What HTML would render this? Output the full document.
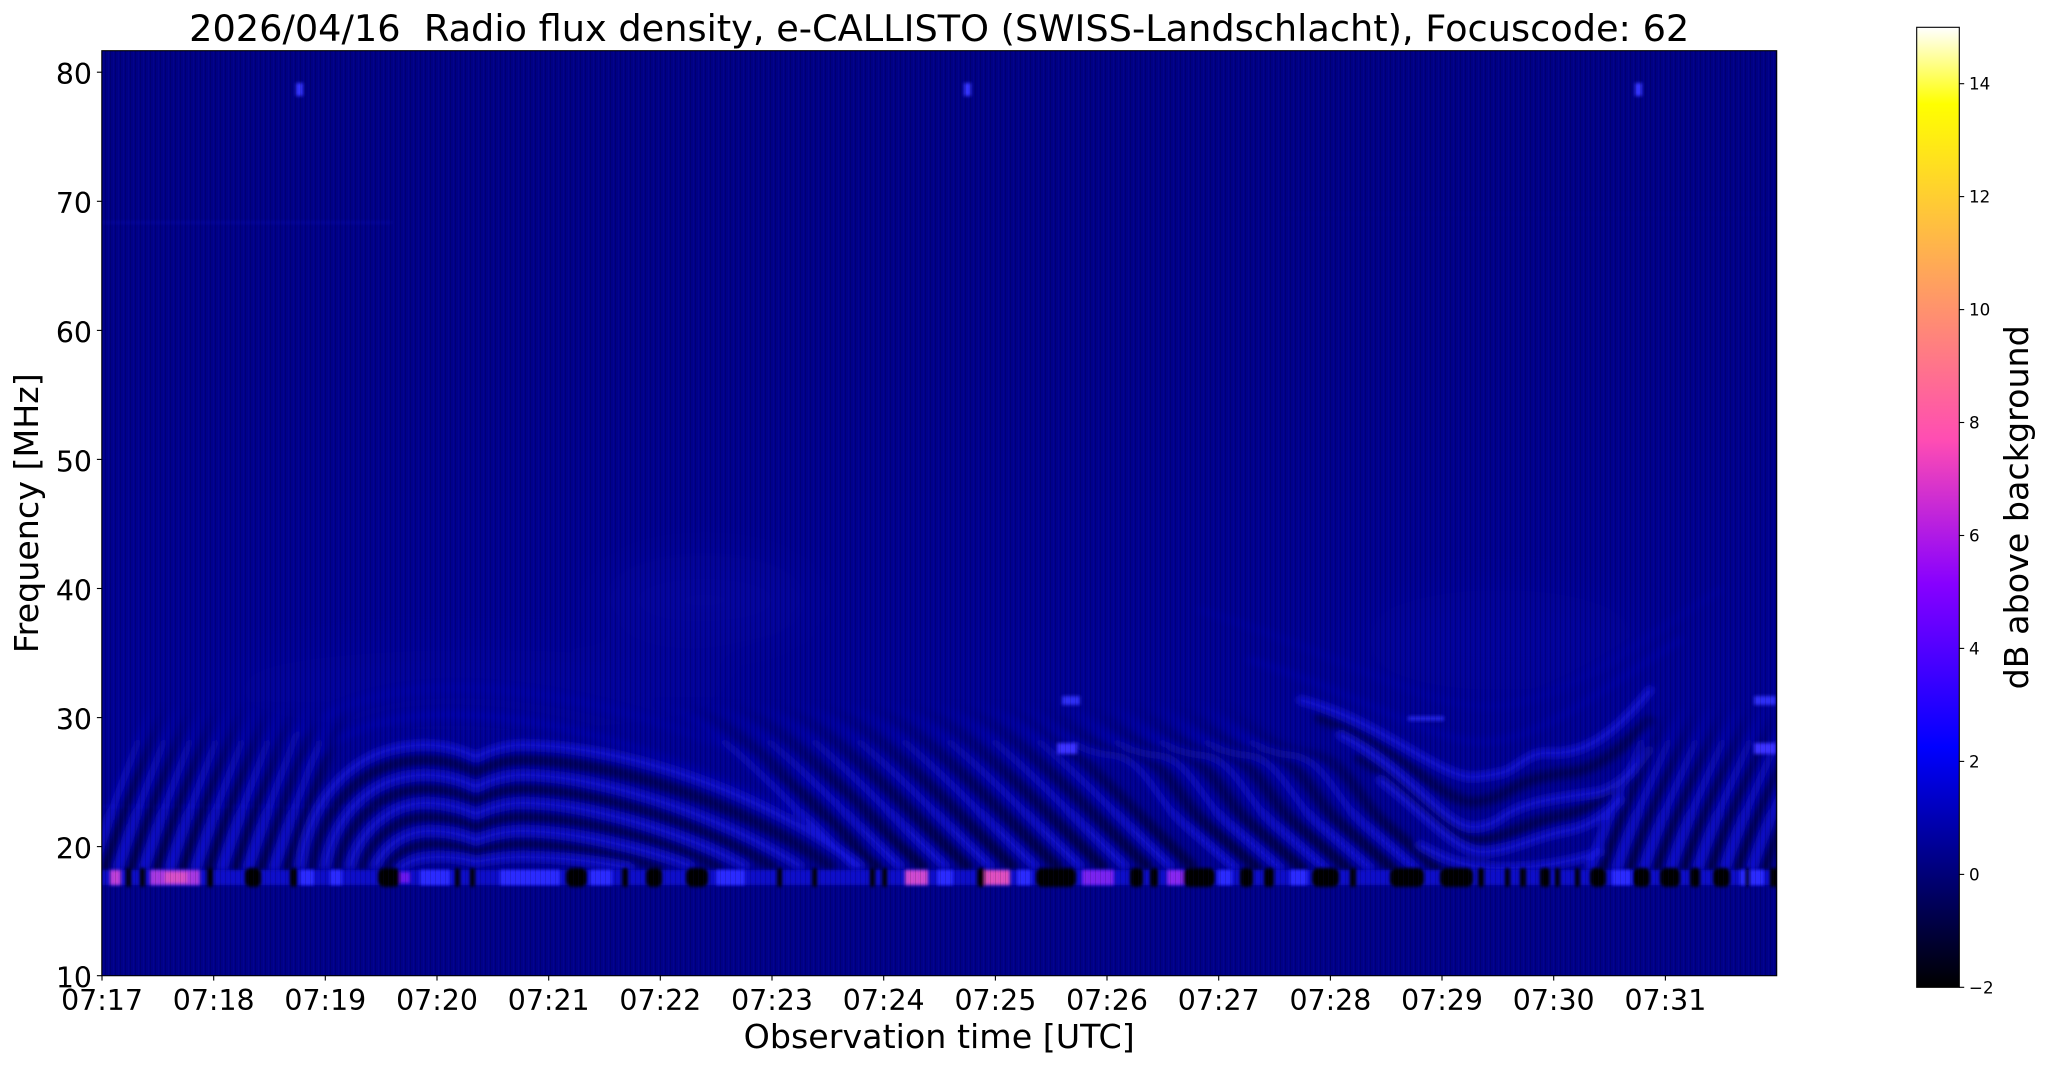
<!DOCTYPE html>
<html>
<head>
<meta charset="utf-8">
<style>
  html, body { margin: 0; padding: 0; background: #ffffff; }
  svg { display: block; }
</style>
</head>
<body>
<svg width="2047" height="1067" viewBox="0 0 2047 1067" xmlns="http://www.w3.org/2000/svg" font-family="'DejaVu Sans', 'Liberation Sans', sans-serif">
  <defs>
    <clipPath id="cp"><rect x="101.8" y="50.7" width="1674.9" height="925"/></clipPath>
    <filter id="b" x="-10%" y="-10%" width="120%" height="120%"><feGaussianBlur stdDeviation="3.4"/></filter>
    <filter id="b2" x="-20%" y="-50%" width="140%" height="200%"><feGaussianBlur stdDeviation="1.6"/></filter>
    <filter id="b3" x="-50%" y="-50%" width="200%" height="200%"><feGaussianBlur stdDeviation="25"/></filter>
    <pattern id="vs" width="5" height="50" patternUnits="userSpaceOnUse">
      <rect x="0" y="0" width="1" height="50" fill="#000000" opacity="0.14"/>
      <rect x="3" y="0" width="1" height="50" fill="#2a2aff" opacity="0.06"/>
    </pattern>
    <linearGradient id="bg" x1="0" y1="0" x2="0" y2="1">
      <stop offset="0" stop-color="#000084"/>
      <stop offset="0.35" stop-color="#000089"/>
      <stop offset="0.6" stop-color="#000090"/>
      <stop offset="0.72" stop-color="#000093"/>
      <stop offset="0.88" stop-color="#00008e"/>
      <stop offset="0.9" stop-color="#000088"/>
      <stop offset="1" stop-color="#000088"/>
    </linearGradient>
    <linearGradient id="fb" gradientUnits="userSpaceOnUse" x1="0" y1="870" x2="0" y2="700">
      <stop offset="0" stop-color="#1a1af0" stop-opacity="0.85"/>
      <stop offset="0.55" stop-color="#1414e0" stop-opacity="0.6"/>
      <stop offset="1" stop-color="#1010d0" stop-opacity="0"/>
    </linearGradient>
    <linearGradient id="fd" gradientUnits="userSpaceOnUse" x1="0" y1="870" x2="0" y2="700">
      <stop offset="0" stop-color="#000030" stop-opacity="0.75"/>
      <stop offset="0.55" stop-color="#000040" stop-opacity="0.55"/>
      <stop offset="1" stop-color="#000050" stop-opacity="0"/>
    </linearGradient>
    <linearGradient id="cb" x1="0" y1="0" x2="0" y2="1">
      <stop offset="0" stop-color="#ffffff"/>
      <stop offset="0.04" stop-color="#ffff80"/>
      <stop offset="0.08" stop-color="#ffff00"/>
      <stop offset="0.10" stop-color="#fff50a"/>
      <stop offset="0.20" stop-color="#ffc23d"/>
      <stop offset="0.30" stop-color="#ff8f70"/>
      <stop offset="0.40" stop-color="#ff5ca3"/>
      <stop offset="0.43" stop-color="#ff4db3"/>
      <stop offset="0.45" stop-color="#ef42bd"/>
      <stop offset="0.50" stop-color="#c729d6"/>
      <stop offset="0.55" stop-color="#9f0ff0"/>
      <stop offset="0.58" stop-color="#8700ff"/>
      <stop offset="0.65" stop-color="#5000ff"/>
      <stop offset="0.70" stop-color="#2800ff"/>
      <stop offset="0.75" stop-color="#0000ff"/>
      <stop offset="0.80" stop-color="#0000cc"/>
      <stop offset="0.85" stop-color="#000099"/>
      <stop offset="0.90" stop-color="#000066"/>
      <stop offset="0.95" stop-color="#000033"/>
      <stop offset="1" stop-color="#000000"/>
    </linearGradient>
  </defs>

  <rect x="0" y="0" width="2047" height="1067" fill="#ffffff"/>

  <text x="939.2" y="41" font-size="36.7" text-anchor="middle" fill="#000">2026/04/16&#160; Radio flux density, e-CALLISTO (SWISS-Landschlacht), Focuscode: 62</text>

  <g clip-path="url(#cp)">
    <rect x="101.8" y="50.7" width="1674.9" height="925" fill="url(#bg)"/>

    <g filter="url(#b3)" opacity="0.18">
      <ellipse cx="705" cy="600" rx="110" ry="45" fill="#1a1ad0"/>
      <ellipse cx="480" cy="690" rx="260" ry="40" fill="#1010c0"/>
      <ellipse cx="1500" cy="640" rx="140" ry="50" fill="#1010c0"/>
    </g>

    <g filter="url(#b2)" opacity="0.28">
      <rect x="101.8" y="221" width="290" height="3" fill="#1818c8"/>
      <rect x="1280" y="213" width="497" height="2" fill="#1010b0" opacity="0.5"/>
      <rect x="101.8" y="805" width="330" height="3" fill="#1818d8" opacity="0.8"/>
    </g>

    <g filter="url(#b)" fill="none" stroke-linecap="round">
      <path d="M260,866 C280,760 340,718 440,715 C560,712 700,760 900,866" stroke="#1515d8" stroke-width="7" opacity="0.25"/>
      <path d="M230,866 C250,740 330,690 450,688 C580,686 760,740 950,866" stroke="#1515d8" stroke-width="7" opacity="0.15"/>
      <path d="M1250,660 C1350,690 1430,740 1480,742 C1540,742 1600,690 1680,640" stroke="#1515d8" stroke-width="7" opacity="0.2"/>
      <path d="M1200,610 C1330,650 1420,705 1485,707 C1560,707 1640,640 1720,590" stroke="#1515d8" stroke-width="7" opacity="0.12"/>

      <g stroke="url(#fd)" stroke-width="10">
        <path d="M105,868 C120,820 140,770 163,710"/>
        <path d="M131,868 C146,820 166,770 189,710"/>
        <path d="M157,868 C172,820 192,770 215,710"/>
        <path d="M183,868 C198,820 218,770 241,710"/>
        <path d="M209,868 C224,820 244,770 267,710"/>
        <path d="M235,868 C250,820 270,770 293,710"/>
        <path d="M261,868 C276,820 296,770 319,710"/>
        <path d="M287,868 C302,820 322,770 345,710"/>
      </g>
      <g stroke="url(#fb)" stroke-width="7">
        <path d="M92,868 C107,820 127,770 150,710"/>
        <path d="M118,868 C133,820 153,770 176,710"/>
        <path d="M144,868 C159,820 179,770 202,710"/>
        <path d="M170,868 C185,820 205,770 228,710"/>
        <path d="M196,868 C211,820 231,770 254,710"/>
        <path d="M222,868 C237,820 257,770 280,710"/>
        <path d="M248,868 C263,820 283,770 306,710"/>
        <path d="M274,868 C289,820 309,770 332,710"/>
      </g>

      <g stroke="#000038" stroke-width="11" opacity="0.6">
        <path d="M312,866 C322,810 360,760 426,760 Q452,760 476,772 Q500,760 522,760 C610,760 740,802 830,866"/>
        <path d="M337,866 C347,822 380,789 426,789 Q452,789 476,800 Q500,789 522,789 C595,789 705,825 772,866"/>
        <path d="M362,866 C372,838 397,817 428,817 Q453,817 476,827 Q500,817 522,817 C583,817 670,842 718,866"/>
        <path d="M387,866 C397,852 412,844 435,844 Q458,844 476,851 Q500,844 522,844 C568,844 625,856 660,866"/>
      </g>
      <g stroke="#1c1cf0" stroke-width="8" opacity="0.7">
        <path d="M300,866 C310,800 350,745 426,745 Q452,745 476,757 Q500,745 522,745 C620,745 760,790 860,866"/>
        <path d="M325,866 C335,815 370,775 426,775 Q452,775 476,787 Q500,775 522,775 C600,775 720,815 800,866"/>
        <path d="M350,866 C360,830 390,803 426,803 Q452,803 476,814 Q500,803 522,803 C590,803 690,835 745,866"/>
        <path d="M375,866 C385,845 405,831 430,831 Q455,831 476,840 Q500,831 522,831 C575,831 650,850 690,866"/>
        <path d="M400,868 C410,860 420,857 440,857 Q460,857 476,862 Q500,857 522,857 C560,857 600,862 630,868"/>
      </g>

      <g stroke="url(#fd)" stroke-width="11">
        <path d="M677,700 C737,720 797,790 877,866"/>
        <path d="M722,700 C782,720 842,790 922,866"/>
        <path d="M767,700 C827,720 887,790 967,866"/>
        <path d="M812,700 C872,720 932,790 1012,866"/>
        <path d="M857,700 C917,720 977,790 1057,866"/>
        <path d="M902,700 C962,720 1022,790 1102,866"/>
        <path d="M947,700 C1007,720 1067,790 1147,866"/>
        <path d="M992,700 C1052,720 1112,790 1192,866"/>
        <path d="M1037,700 C1077,730 1097,752 1132,755 C1167,758 1177,800 1207,825 C1227,842 1242,855 1257,868"/>
        <path d="M1082,700 C1122,730 1142,752 1177,755 C1212,758 1222,800 1252,825 C1272,842 1287,855 1302,868"/>
        <path d="M1127,700 C1167,730 1187,752 1222,755 C1257,758 1267,800 1297,825 C1317,842 1332,855 1347,868"/>
        <path d="M1172,700 C1212,730 1232,752 1267,755 C1302,758 1312,800 1342,825 C1362,842 1377,855 1392,868"/>
        <path d="M1217,700 C1257,730 1277,752 1312,755 C1347,758 1357,800 1387,825 C1407,842 1422,855 1437,868"/>
      </g>
      <g stroke="url(#fb)" stroke-width="7">
        <path d="M655,700 C715,720 775,790 855,866"/>
        <path d="M700,700 C760,720 820,790 900,866"/>
        <path d="M745,700 C805,720 865,790 945,866"/>
        <path d="M790,700 C850,720 910,790 990,866"/>
        <path d="M835,700 C895,720 955,790 1035,866"/>
        <path d="M880,700 C940,720 1000,790 1080,866"/>
        <path d="M925,700 C985,720 1045,790 1125,866"/>
        <path d="M970,700 C1030,720 1090,790 1170,866"/>
        <path d="M1015,700 C1055,730 1075,752 1110,755 C1145,758 1155,800 1185,825 C1205,842 1220,855 1235,868"/>
        <path d="M1060,700 C1100,730 1120,752 1155,755 C1190,758 1200,800 1230,825 C1250,842 1265,855 1280,868"/>
        <path d="M1105,700 C1145,730 1165,752 1200,755 C1235,758 1245,800 1275,825 C1295,842 1310,855 1325,868"/>
        <path d="M1150,700 C1190,730 1210,752 1245,755 C1280,758 1290,800 1320,825 C1340,842 1355,855 1370,868"/>
        <path d="M1195,700 C1235,730 1255,752 1290,755 C1325,758 1335,800 1365,825 C1385,842 1400,855 1415,868"/>
      </g>

      <g stroke="#000038" stroke-width="11" opacity="0.6">
        <path d="M1320,718 C1395,745 1442,802 1473,802 Q1490,801 1505,793 C1525,780 1545,775 1575,772 C1605,765 1625,745 1650,720"/>
        <path d="M1360,758 C1415,790 1450,840 1478,840 C1505,840 1525,822 1565,815 C1590,810 1605,795 1625,780"/>
      </g>
      <g stroke="#1c1cf0" stroke-width="8" opacity="0.7">
        <path d="M1300,700 C1380,720 1440,778 1473,777 Q1490,776 1505,772 C1520,765 1530,752 1548,753 C1580,755 1610,740 1650,690"/>
        <path d="M1340,735 C1410,770 1445,827 1473,827 Q1490,827 1505,815 C1530,800 1560,798 1600,792 C1620,785 1635,770 1650,750"/>
        <path d="M1380,780 C1420,810 1455,852 1482,852 C1510,852 1535,836 1570,830 C1590,826 1605,815 1620,800"/>
        <path d="M1420,845 C1450,862 1470,868 1500,868 C1540,868 1570,862 1600,852"/>
      </g>

      <g stroke="url(#fd)" stroke-width="10">
        <path d="M1603,868 C1618,820 1643,770 1668,710"/>
        <path d="M1630,868 C1645,820 1670,770 1695,710"/>
        <path d="M1657,868 C1672,820 1697,770 1722,710"/>
        <path d="M1684,868 C1699,820 1724,770 1749,710"/>
        <path d="M1711,868 C1726,820 1751,770 1776,710"/>
        <path d="M1738,868 C1753,820 1778,770 1803,710"/>
        <path d="M1765,868 C1780,820 1805,770 1830,710"/>
      </g>
      <g stroke="url(#fb)" stroke-width="7">
        <path d="M1590,868 C1605,820 1630,770 1655,710"/>
        <path d="M1617,868 C1632,820 1657,770 1682,710"/>
        <path d="M1644,868 C1659,820 1684,770 1709,710"/>
        <path d="M1671,868 C1686,820 1711,770 1736,710"/>
        <path d="M1698,868 C1713,820 1738,770 1763,710"/>
        <path d="M1725,868 C1740,820 1765,770 1790,710"/>
        <path d="M1752,868 C1767,820 1792,770 1817,710"/>
      </g>
    </g>

    <rect x="101.8" y="870" width="1675" height="15" fill="#0c0cc8" filter="url(#b2)"/>
    <g filter="url(#b2)">
      <g fill="#2a2aff">
        <rect x="420" y="870" width="30" height="15"/>
        <rect x="500" y="870" width="60" height="15"/>
        <rect x="590" y="870" width="22" height="15"/>
        <rect x="716" y="870" width="29" height="15"/>
        <rect x="937" y="870" width="16" height="15"/>
        <rect x="1017" y="870" width="14" height="15"/>
        <rect x="1218" y="870" width="14" height="15"/>
        <rect x="1290" y="870" width="17" height="15"/>
        <rect x="1612" y="870" width="19" height="15"/>
        <rect x="1740" y="870" width="24" height="15"/>
        <rect x="300" y="870" width="14" height="15"/>
        <rect x="330" y="870" width="12" height="15"/>
      </g>
      <rect x="110" y="870" width="11" height="15" fill="#c040d8"/>
      <rect x="150" y="870" width="50" height="15" fill="#a838e0"/>
      <rect x="165" y="872" width="22" height="11" fill="#d850c8"/>
      <rect x="905" y="870" width="23" height="15" fill="#d048d0"/>
      <rect x="985" y="870" width="25" height="15" fill="#e050c0"/>
      <rect x="1082" y="870" width="32" height="15" fill="#7a20f0"/>
      <rect x="1167" y="870" width="16" height="15" fill="#8828f0"/>
      <rect x="400" y="872" width="10" height="11" fill="#6a18f0"/>
      <g fill="#000000">
        <rect x="126" y="868" width="5" height="19" rx="2"/>
        <rect x="140" y="868" width="5" height="19" rx="2"/>
        <rect x="207" y="868" width="6" height="19" rx="2"/>
        <rect x="245" y="868" width="16" height="19" rx="5"/>
        <rect x="290" y="868" width="7" height="19" rx="3"/>
        <rect x="378" y="868" width="22" height="19" rx="6"/>
        <rect x="455" y="868" width="5" height="19" rx="2"/>
        <rect x="470" y="868" width="5" height="19" rx="2"/>
        <rect x="566" y="868" width="21" height="19" rx="6"/>
        <rect x="622" y="868" width="6" height="19" rx="2"/>
        <rect x="646" y="868" width="16" height="19" rx="5"/>
        <rect x="686" y="868" width="22" height="19" rx="6"/>
        <rect x="777" y="868" width="5" height="19" rx="2"/>
        <rect x="812" y="868" width="5" height="19" rx="2"/>
        <rect x="870" y="868" width="5" height="19" rx="2"/>
        <rect x="882" y="868" width="5" height="19" rx="2"/>
        <rect x="977" y="868" width="8" height="19" rx="3"/>
        <rect x="1036" y="868" width="40" height="19" rx="6"/>
        <rect x="1130" y="868" width="13" height="19" rx="4"/>
        <rect x="1150" y="868" width="8" height="19" rx="3"/>
        <rect x="1183" y="868" width="32" height="19" rx="6"/>
        <rect x="1240" y="868" width="13" height="19" rx="4"/>
        <rect x="1264" y="868" width="10" height="19" rx="3"/>
        <rect x="1312" y="868" width="27" height="19" rx="6"/>
        <rect x="1350" y="868" width="6" height="19" rx="2"/>
        <rect x="1390" y="868" width="34" height="19" rx="6"/>
        <rect x="1440" y="868" width="33" height="19" rx="6"/>
        <rect x="1478" y="868" width="6" height="19" rx="2"/>
        <rect x="1505" y="868" width="5" height="19" rx="2"/>
        <rect x="1520" y="868" width="6" height="19" rx="2"/>
        <rect x="1540" y="868" width="10" height="19" rx="3"/>
        <rect x="1555" y="868" width="5" height="19" rx="2"/>
        <rect x="1575" y="868" width="5" height="19" rx="2"/>
        <rect x="1590" y="868" width="16" height="19" rx="5"/>
        <rect x="1633" y="868" width="17" height="19" rx="5"/>
        <rect x="1660" y="868" width="20" height="19" rx="5"/>
        <rect x="1690" y="868" width="10" height="19" rx="3"/>
        <rect x="1713" y="868" width="17" height="19" rx="5"/>
        <rect x="1745" y="868" width="5" height="19" rx="2"/>
        <rect x="1770" y="868" width="8" height="19" rx="2"/>
      </g>
    </g>

    <g filter="url(#b2)">
      <rect x="296" y="83" width="7" height="13" fill="#3434ff"/>
      <rect x="964" y="83" width="7" height="13" fill="#3434ff"/>
      <rect x="1635" y="83" width="7" height="13" fill="#3434ff"/>
      <rect x="1062" y="696" width="18" height="9" fill="#2e2ef5"/>
      <rect x="1754" y="696" width="22" height="9" fill="#2e2ef5"/>
      <rect x="1057" y="743" width="20" height="11" fill="#3a30ff"/>
      <rect x="1754" y="743" width="22" height="11" fill="#3a30ff"/>
      <rect x="1408" y="716" width="36" height="5" fill="#2222e0"/>
    </g>

    <rect x="101.8" y="50.7" width="1674.9" height="925" fill="url(#vs)"/>
  </g>

  <rect x="101.8" y="50.7" width="1674.9" height="925" fill="none" stroke="#000" stroke-width="1.1"/>

  <g stroke="#000" stroke-width="1.1">
    <line x1="96.9" y1="975.7" x2="101.8" y2="975.7"/>
    <line x1="96.9" y1="846.6" x2="101.8" y2="846.6"/>
    <line x1="96.9" y1="717.6" x2="101.8" y2="717.6"/>
    <line x1="96.9" y1="588.5" x2="101.8" y2="588.5"/>
    <line x1="96.9" y1="459.4" x2="101.8" y2="459.4"/>
    <line x1="96.9" y1="330.4" x2="101.8" y2="330.4"/>
    <line x1="96.9" y1="201.3" x2="101.8" y2="201.3"/>
    <line x1="96.9" y1="72.2" x2="101.8" y2="72.2"/>
  </g>
  <g font-size="28.4" text-anchor="end" fill="#000">
    <text x="92" y="987.6">10</text>
    <text x="92" y="858.5">20</text>
    <text x="92" y="729.5">30</text>
    <text x="92" y="600.4">40</text>
    <text x="92" y="471.3">50</text>
    <text x="92" y="342.3">60</text>
    <text x="92" y="213.2">70</text>
    <text x="92" y="84.1">80</text>
  </g>

  <g stroke="#000" stroke-width="1.1">
    <line x1="102" y1="975.7" x2="102" y2="980.6"/>
    <line x1="213.7" y1="975.7" x2="213.7" y2="980.6"/>
    <line x1="325.3" y1="975.7" x2="325.3" y2="980.6"/>
    <line x1="437" y1="975.7" x2="437" y2="980.6"/>
    <line x1="548.7" y1="975.7" x2="548.7" y2="980.6"/>
    <line x1="660.3" y1="975.7" x2="660.3" y2="980.6"/>
    <line x1="772" y1="975.7" x2="772" y2="980.6"/>
    <line x1="883.7" y1="975.7" x2="883.7" y2="980.6"/>
    <line x1="995.4" y1="975.7" x2="995.4" y2="980.6"/>
    <line x1="1107" y1="975.7" x2="1107" y2="980.6"/>
    <line x1="1218.7" y1="975.7" x2="1218.7" y2="980.6"/>
    <line x1="1330.4" y1="975.7" x2="1330.4" y2="980.6"/>
    <line x1="1442" y1="975.7" x2="1442" y2="980.6"/>
    <line x1="1553.7" y1="975.7" x2="1553.7" y2="980.6"/>
    <line x1="1665.4" y1="975.7" x2="1665.4" y2="980.6"/>
  </g>
  <g font-size="28.4" text-anchor="middle" fill="#000">
    <text x="102" y="1009.8">07:17</text>
    <text x="213.7" y="1009.8">07:18</text>
    <text x="325.3" y="1009.8">07:19</text>
    <text x="437" y="1009.8">07:20</text>
    <text x="548.7" y="1009.8">07:21</text>
    <text x="660.3" y="1009.8">07:22</text>
    <text x="772" y="1009.8">07:23</text>
    <text x="883.7" y="1009.8">07:24</text>
    <text x="995.4" y="1009.8">07:25</text>
    <text x="1107" y="1009.8">07:26</text>
    <text x="1218.7" y="1009.8">07:27</text>
    <text x="1330.4" y="1009.8">07:28</text>
    <text x="1442" y="1009.8">07:29</text>
    <text x="1553.7" y="1009.8">07:30</text>
    <text x="1665.4" y="1009.8">07:31</text>
  </g>

  <text x="939.2" y="1048" font-size="33.3" text-anchor="middle" fill="#000">Observation time [UTC]</text>
  <text transform="translate(38,513.2) rotate(-90)" x="0" y="0" font-size="33.3" text-anchor="middle" fill="#000">Frequency [MHz]</text>

  <rect x="1916.7" y="27.3" width="42.6" height="960" fill="url(#cb)"/>
  <rect x="1916.7" y="27.3" width="42.6" height="960" fill="none" stroke="#000" stroke-width="1.1"/>
  <g stroke="#000" stroke-width="1.1">
    <line x1="1959.3" y1="987.3" x2="1964.2" y2="987.3"/>
    <line x1="1959.3" y1="874.4" x2="1964.2" y2="874.4"/>
    <line x1="1959.3" y1="761.4" x2="1964.2" y2="761.4"/>
    <line x1="1959.3" y1="648.4" x2="1964.2" y2="648.4"/>
    <line x1="1959.3" y1="535.5" x2="1964.2" y2="535.5"/>
    <line x1="1959.3" y1="422.5" x2="1964.2" y2="422.5"/>
    <line x1="1959.3" y1="309.6" x2="1964.2" y2="309.6"/>
    <line x1="1959.3" y1="196.6" x2="1964.2" y2="196.6"/>
    <line x1="1959.3" y1="83.7" x2="1964.2" y2="83.7"/>
  </g>
  <g font-size="16.7" fill="#000">
    <text x="1969" y="993.3">−2</text>
    <text x="1969" y="880.4">0</text>
    <text x="1969" y="767.4">2</text>
    <text x="1969" y="654.4">4</text>
    <text x="1969" y="541.5">6</text>
    <text x="1969" y="428.5">8</text>
    <text x="1969" y="315.6">10</text>
    <text x="1969" y="202.6">12</text>
    <text x="1969" y="89.7">14</text>
  </g>
  <text transform="translate(2028,507.3) rotate(-90)" x="0" y="0" font-size="33.3" text-anchor="middle" fill="#000">dB above background</text>
</svg>
</body>
</html>
